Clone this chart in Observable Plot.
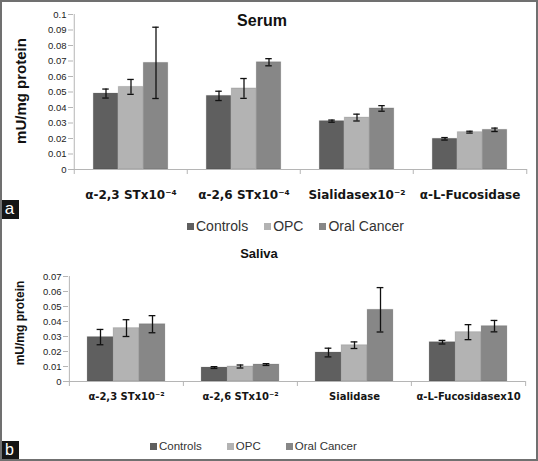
<!DOCTYPE html>
<html><head><meta charset="utf-8">
<script src="https://cdn.jsdelivr.net/npm/d3@7"></script>
<script src="https://cdn.jsdelivr.net/npm/@observablehq/plot@0.6"></script>
<style>
body{margin:0;background:#fff;}
#wrap{position:relative;width:538px;height:461px;overflow:hidden;font-family:"Liberation Sans",Arial,sans-serif;background:#fff;}
.panel{position:absolute;left:0;}
.border{position:absolute;left:0;top:0;width:538px;height:461px;box-sizing:border-box;border:2px solid #707070;pointer-events:none;}
.title{position:absolute;font-weight:bold;color:#111;transform:translateX(-50%);white-space:nowrap;}
.ylab{position:absolute;font-weight:bold;color:#111;white-space:nowrap;transform:translate(-50%,-50%) rotate(-90deg);}
.legend{position:absolute;display:flex;align-items:center;white-space:nowrap;color:#333;}
.legend .item{display:flex;align-items:center;}
.legend .sw{display:inline-block;width:7px;height:7px;margin-right:2px;}
.tag{position:absolute;left:0;width:19px;height:19px;background:#151515;color:#fff;font-size:17px;line-height:17px;text-align:center;}
</style></head>
<body>
<div id="wrap">
  <div class="panel" id="serum" style="top:0"></div>
  <div class="panel" id="saliva" style="top:240px"></div>
  <div class="title" style="left:262px;top:13px;font-size:16px;line-height:16px">Serum</div>
  <div class="title" style="left:259px;top:247px;font-size:13px;line-height:13px">Saliva</div>
  <div class="ylab" style="left:20px;top:91px;font-size:15px;line-height:15px">mU/mg protein</div>
  <div class="ylab" style="left:20px;top:323px;font-size:12px;line-height:12px">mU/mg protein</div>
  <div class="legend" id="leg1" style="left:187px;top:219px;font-size:14px;line-height:14px"></div>
  <div class="legend" id="leg2" style="left:150px;top:441px;font-size:11.5px;line-height:11.5px"></div>
  <div class="tag" style="top:200px">a</div>
  <div class="tag" style="top:441px;height:18px;font-size:16px;line-height:17px">b</div>
  <div class="border"></div>
</div>
<script>
const series = ["Controls", "OPC", "Oral Cancer"];
const seriesColors = ["#5f5f5f", "#b3b3b3", "#878787"];

const serumCategories = ["α-2,3 STx10⁻⁴", "α-2,6 STx10⁻⁴", "Sialidasex10⁻²", "α-L-Fucosidase"];
const serumControls = [0.0490, 0.0475, 0.0312, 0.0198];
const serumOPC = [0.0533, 0.0523, 0.0335, 0.0241];
const serumOralCancer = [0.0688, 0.0692, 0.0394, 0.0256];
const serumControlsErr = [0.0029, 0.0030, 0.0007, 0.0008];
const serumOPCErr = [0.0048, 0.0064, 0.0022, 0.0006];
const serumOralCancerErr = [0.0230, 0.0023, 0.0018, 0.0011];
const serumYTicks = [0, 0.01, 0.02, 0.03, 0.04, 0.05, 0.06, 0.07, 0.08, 0.09, 0.1];

const salivaCategories = ["α-2,3 STx10⁻²", "α-2,6 STx10⁻²", "Sialidase", "α-L-Fucosidasex10"];
const salivaControls = [0.0296, 0.0093, 0.0193, 0.0262];
const salivaOPC = [0.0356, 0.0100, 0.0242, 0.0329];
const salivaOralCancer = [0.0382, 0.0113, 0.0478, 0.0369];
const salivaControlsErr = [0.0051, 0.0006, 0.0029, 0.0012];
const salivaOPCErr = [0.0056, 0.0010, 0.0022, 0.0050];
const salivaOralCancerErr = [0.0057, 0.0006, 0.0148, 0.0038];
const salivaYTicks = [0, 0.01, 0.02, 0.03, 0.04, 0.05, 0.06, 0.07];

function groupedChart(cfg) {
  const {categories, values, errors, yTicks, width, height, marginTop, marginRight, marginBottom, marginLeft,
         barWidth, capWidth, tickFontSize, catFontSize, catPadding} = cfg;
  const bw = (width - marginLeft - marginRight) / categories.length;
  const frameH = height - marginTop - marginBottom;
  const axisColor = "#b5b5b5";
  const marks = [];
  const rowsBySeries = series.map((s, si) => categories.map((c, ci) => ({cat: c, s, v: values[si][ci], e: errors[si][ci]})));
  rowsBySeries.forEach((rows, si) => {
    const off = (si - 1) * barWidth;
    const inset = (bw - barWidth) / 2;
    marks.push(Plot.barY(rows, {x: "cat", y: "v", fill: seriesColors[si], insetLeft: inset + off, insetRight: inset - off,
      stroke: "#000", strokeOpacity: 0.12, strokeWidth: 1}));
  });
  marks.push(Plot.ruleY([0], {stroke: axisColor}));
  marks.push(Plot.ruleX([categories[0]], {dx: -bw / 2, y1: 0, y2: yTicks[yTicks.length - 1], stroke: axisColor}));
  marks.push(Plot.tickX(categories, {x: d => d, dx: -bw / 2, dy: 5, insetTop: frameH - 5, stroke: axisColor}));
  marks.push(Plot.tickX([categories[categories.length - 1]], {x: d => d, dx: bw / 2, dy: 5, insetTop: frameH - 5, stroke: axisColor}));
  rowsBySeries.forEach((rows, si) => {
    const off = (si - 1) * barWidth;
    const capInset = (bw - capWidth) / 2;
    marks.push(Plot.ruleX(rows, {x: "cat", y1: d => d.v - d.e, y2: d => d.v + d.e, dx: off, stroke: "#111", strokeWidth: 1.3}));
    marks.push(Plot.tickY(rows, {x: "cat", y: d => d.v + d.e, insetLeft: capInset + off, insetRight: capInset - off, stroke: "#111", strokeWidth: 1.3}));
    marks.push(Plot.tickY(rows, {x: "cat", y: d => d.v - d.e, insetLeft: capInset + off, insetRight: capInset - off, stroke: "#111", strokeWidth: 1.3}));
  });
  marks.push(Plot.axisY({ticks: yTicks, tickSize: 5, tickPadding: 2, tickFormat: d => String(+d.toFixed(3)),
    stroke: axisColor, fill: "#222", fontSize: tickFontSize, label: null}));
  marks.push(Plot.axisX({tickSize: 0, tickPadding: catPadding, fontWeight: "bold", fontSize: catFontSize,
    fontFamily: "DejaVu Sans", fill: "#151515", label: null}));
  return Plot.plot({
    width, height, marginTop, marginRight, marginBottom, marginLeft,
    x: {domain: categories, padding: 0},
    y: {domain: [0, yTicks[yTicks.length - 1]]},
    style: {fontFamily: "'Liberation Sans', Arial, sans-serif", background: "transparent", color: "#222"},
    marks
  });
}

document.getElementById("serum").appendChild(groupedChart({
  categories: serumCategories,
  values: [serumControls, serumOPC, serumOralCancer],
  errors: [serumControlsErr, serumOPCErr, serumOralCancerErr],
  yTicks: serumYTicks,
  width: 538, height: 205, marginTop: 14, marginRight: 11, marginBottom: 36, marginLeft: 73,
  barWidth: 25, capWidth: 7, tickFontSize: 9.5, catFontSize: 12, catPadding: 21
}));

document.getElementById("saliva").appendChild(groupedChart({
  categories: salivaCategories,
  values: [salivaControls, salivaOPC, salivaOralCancer],
  errors: [salivaControlsErr, salivaOPCErr, salivaOralCancerErr],
  yTicks: salivaYTicks,
  width: 538, height: 170, marginTop: 36, marginRight: 13, marginBottom: 29, marginLeft: 68,
  barWidth: 26, capWidth: 7, tickFontSize: 9.5, catFontSize: 10, catPadding: 11
}));

function legend(id) {
  const el = document.getElementById(id);
  const gap = id === "leg1" ? 16 : 25;
  series.forEach((s, i) => {
    const item = document.createElement("span");
    item.className = "item";
    if (i > 0) item.style.marginLeft = gap + "px";
    const sw = document.createElement("span");
    sw.className = "sw";
    sw.style.background = seriesColors[i];
    item.appendChild(sw);
    item.appendChild(document.createTextNode(s));
    el.appendChild(item);
  });
}
legend("leg1");
legend("leg2");
</script>
</body></html>
